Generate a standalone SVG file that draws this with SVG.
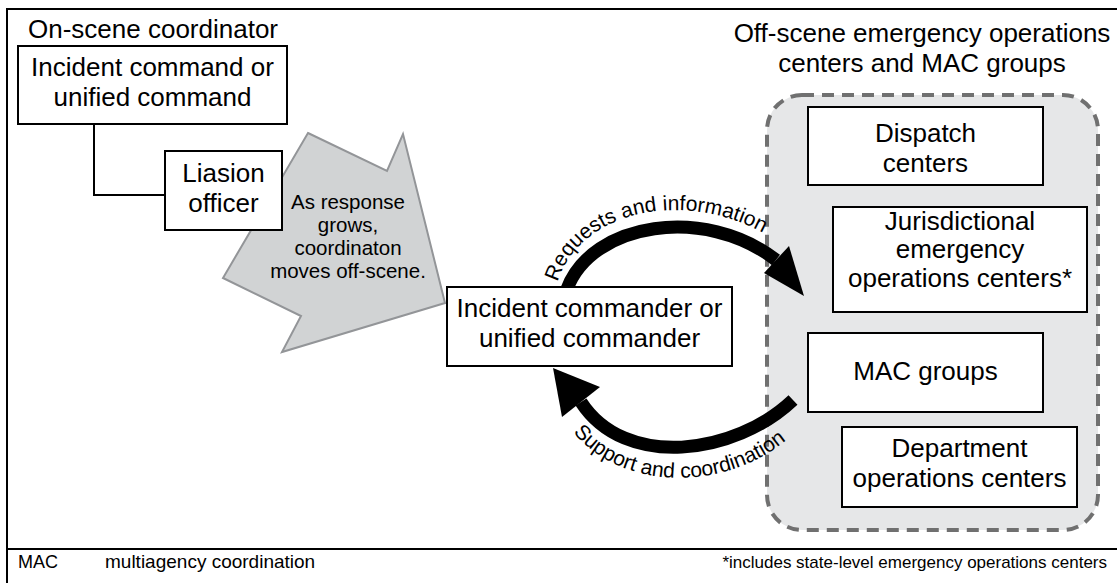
<svg xmlns="http://www.w3.org/2000/svg" width="1117" height="583" viewBox="0 0 1117 583">
<style>
  text { font-family: "Liberation Sans", Arial, sans-serif; fill: #000; }
  .t { font-size: 26px; text-anchor: middle; }
  .s { font-size: 20.5px; text-anchor: middle; }
  .lbl { font-size: 21px; }
  .box { fill: #fff; stroke: #000; stroke-width: 2; }
  .frame { stroke: #000; stroke-width: 2; fill: none; }
  .arc { fill: none; stroke: #000; stroke-width: 13; }
</style>
<defs>
  <path id="p-top" d="M 557,284 C 580,203 707,183 792,252"/>
  <path id="p-bot" d="M 568,426 C 625,502 752,490 808,418"/>
</defs>
<rect width="1117" height="583" fill="#fff"/>
<g id="frame">
  <path class="frame" d="M 7,583 V 9 H 1117"/>
  <path class="frame" d="M 7,549 H 1117"/>
</g>
<g id="offscene">
  <rect x="767" y="95" width="331" height="435" rx="35" ry="35" fill="#e6e7e8" stroke="#707070" stroke-width="4" stroke-dasharray="12 8"/>
  <text class="t" x="922" y="42">Off-scene emergency operations</text>
  <text class="t" x="922" y="72">centers and MAC groups</text>
</g>
<g id="oncoord">
  <text x="28" y="38" style="font-size:26px">On-scene coordinator</text>
</g>
<g id="growth-arrow">
  <polygon points="308,133 387,171 403,134 445,303 282,352 301,316 223,278" fill="#d1d3d4" stroke="#939598" stroke-width="2" stroke-linejoin="miter"/>
  <text class="s" x="348" y="209">As response</text>
  <text class="s" x="348" y="232">grows,</text>
  <text class="s" x="348" y="255">coordinaton</text>
  <text class="s" x="348" y="278">moves off-scene.</text>
</g>
<g id="connectors">
  <path d="M 94,124 V 195 H 165" fill="none" stroke="#000" stroke-width="2"/>
  <path class="arc" d="M 567,289 C 592,222 705,205 776,260"/>
  <polygon points="764,273 789,246 804,296" fill="#000"/>
  <path class="arc" d="M 793,400 C 735,455 625,470 581,402"/>
  <polygon points="553,368 562,417 600,387" fill="#000"/>
  <text class="lbl"><textPath href="#p-top" startOffset="2">Requests and information</textPath></text>
  <text class="lbl"><textPath href="#p-bot" startOffset="8">Support and coordination</textPath></text>
</g>
<g id="incident-command">
  <rect class="box" x="18" y="46" width="269" height="78"/>
  <text class="t" x="152.5" y="76">Incident command or</text>
  <text class="t" x="152.5" y="106">unified command</text>
</g>
<g id="liaison">
  <rect class="box" x="165" y="151" width="117" height="79"/>
  <text class="t" x="223.5" y="182">Liasion</text>
  <text class="t" x="223.5" y="212">officer</text>
</g>
<g id="incident-commander">
  <rect class="box" x="447" y="287" width="285" height="79"/>
  <text class="t" x="589.5" y="317">Incident commander or</text>
  <text class="t" x="589.5" y="347">unified commander</text>
</g>
<g id="dispatch">
  <rect class="box" x="808" y="107" width="235" height="78"/>
  <text class="t" x="925.5" y="142">Dispatch</text>
  <text class="t" x="925.5" y="172">centers</text>
</g>
<g id="jurisdictional">
  <rect class="box" x="833" y="207" width="254" height="105"/>
  <text class="t" x="960" y="230">Jurisdictional</text>
  <text class="t" x="960" y="258">emergency</text>
  <text class="t" x="960" y="287">operations centers*</text>
</g>
<g id="mac">
  <rect class="box" x="808" y="333" width="235" height="79"/>
  <text class="t" x="925.5" y="380">MAC groups</text>
</g>
<g id="department">
  <rect class="box" x="842" y="427" width="235" height="80"/>
  <text class="t" x="959.5" y="457">Department</text>
  <text class="t" x="959.5" y="487">operations centers</text>
</g>
<g id="legend">
  <text x="18" y="568" style="font-size:18px">MAC</text>
  <text x="105" y="568" style="font-size:19px">multiagency coordination</text>
  <text x="1107" y="568" text-anchor="end" style="font-size:17px">*includes state-level emergency operations centers</text>
</g>
</svg>
